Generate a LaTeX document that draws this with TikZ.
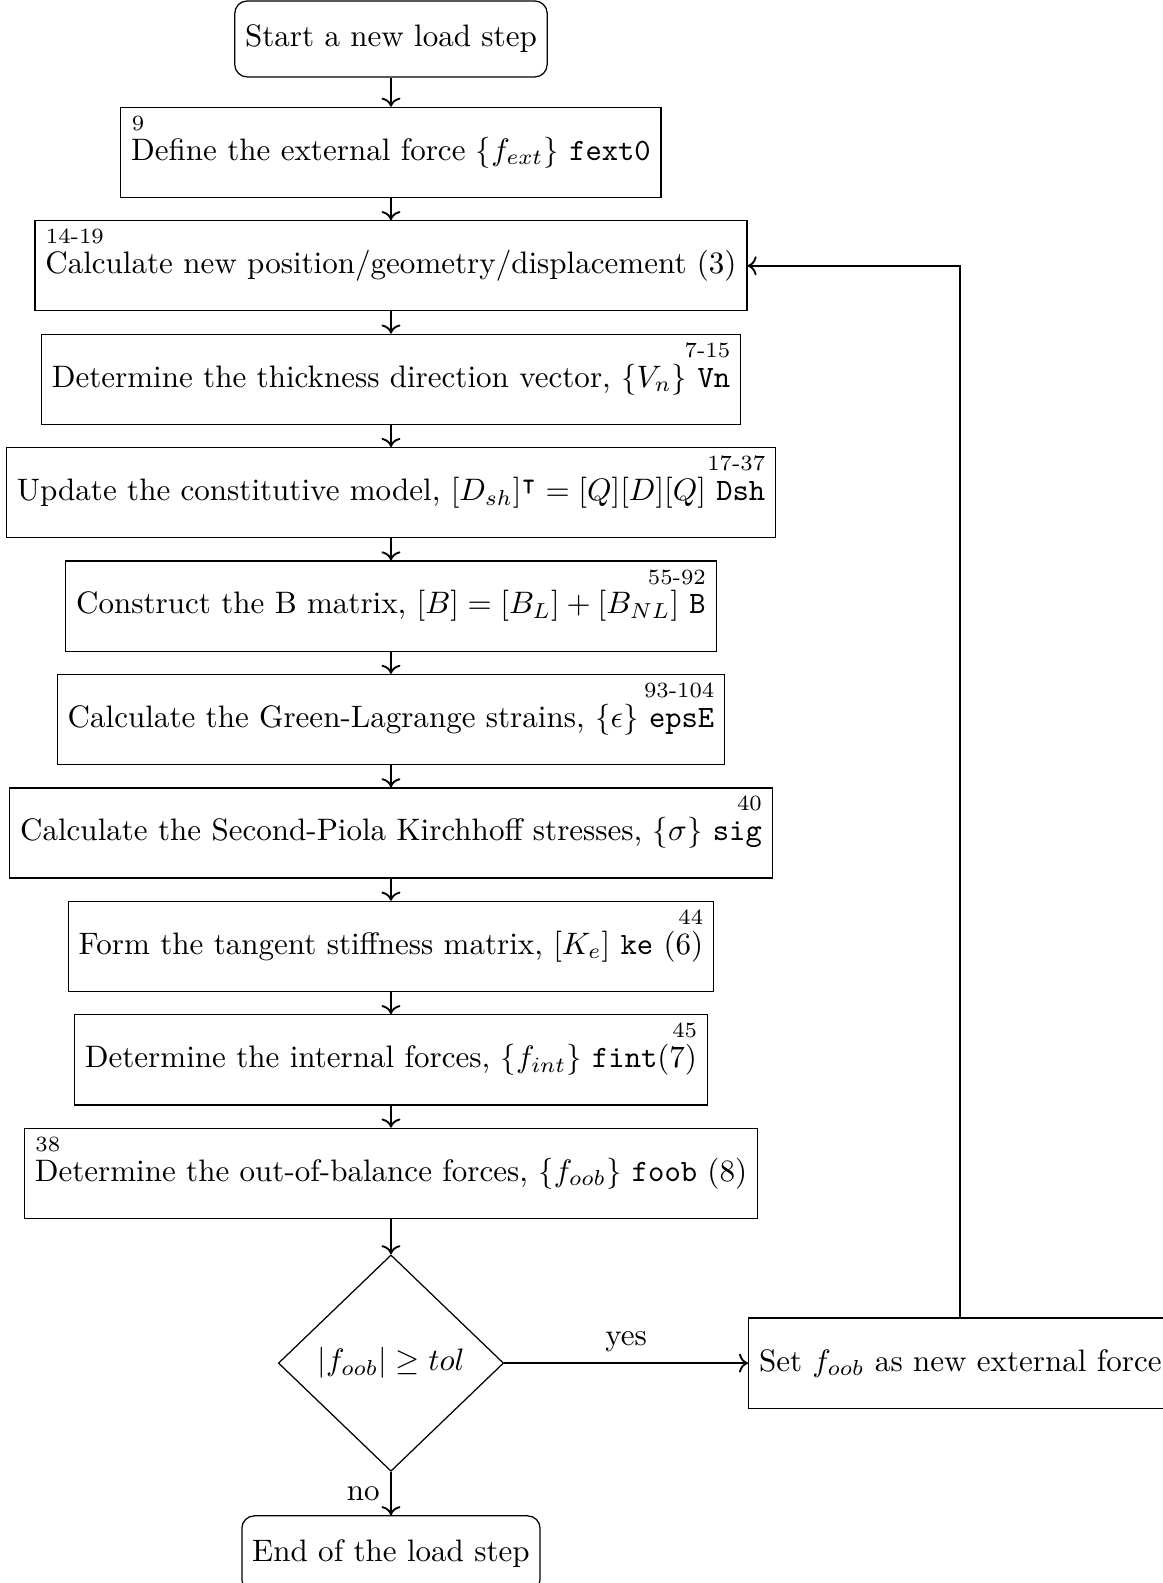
\documentclass[tikz,border=0pt]{standalone}
\usepackage{amsmath,amssymb}
\usetikzlibrary{arrows.meta,positioning,shapes.geometric}

\begin{document}
\begin{tikzpicture}[node distance=0.25cm,
    box/.style={draw,rectangle,minimum height=1.02cm},
    term/.style={draw,rectangle,rounded corners,minimum height=0.86cm},
    decision/.style={draw,diamond,aspect=1,inner sep=1pt,minimum width=2.55cm,minimum height=2.45cm},
    lnum/.style={inner sep=0pt,font=\scriptsize},
    flow/.style={semithick,->}]
    \useasboundingbox (-4.426,0.441) rectangle (8.739,-17.479);

    \node[term] (start) at (0,0) {Start a new load step};
    \node[box,below=0.33cm of start] (fext) {Define the external force $\{f_{ext}\}$ \texttt{fext0}};
    \node[box,below=of fext] (calc) {Calculate new position/geometry/displacement (3)};
    \node[box,below=of calc] (vn) {Determine the thickness direction vector, $\{V_n\}$ \texttt{Vn}};
    \node[box,below=of vn] (dsh) {Update the constitutive model, $[D_{sh}]^\intercal = [Q][D][Q]$ \texttt{Dsh}};
    \node[box,below=of dsh] (bmat) {Construct the B matrix, $[B] = [B_L] + [B_{NL}]$ \texttt{B}};
    \node[box,below=of bmat] (eps) {Calculate the Green-Lagrange strains, $\{\epsilon\}$ \texttt{epsE}};
    \node[box,below=of eps] (sig) {Calculate the Second-Piola Kirchhoff stresses, $\{\sigma\}$ \texttt{sig}};
    \node[box,below=of sig] (ke) {Form the tangent stiffness matrix, $[K_e]$ \texttt{ke} (6)};
    \node[box,below=of ke] (fint) {Determine the internal forces, $\{f_{int}\}$ \texttt{fint}(7)};
    \node[box,below=of fint] (foob) {Determine the out-of-balance forces, $\{f_{oob}\}$ \texttt{foob} (8)};
    \node[decision,below=0.4cm of foob] (check) {$|f_{oob}| \geq tol$};
    \node[box,right=2.76cm of check] (setf) {Set $f_{oob}$ as new external force};
    \node[term,below=0.49cm of check] (finish) {End of the load step};

    % line numbers of the code
    \node[lnum,anchor=base west] at ([yshift=9.6pt]fext.text) {9};
    \node[lnum,anchor=base west] at ([yshift=9.6pt]calc.text) {14-19};
    \node[lnum,anchor=base west] at ([yshift=9.6pt]foob.text) {38};
    \foreach \n/\l in {vn/7-15,dsh/17-37,bmat/55-92,eps/93-104,sig/40,ke/44,fint/45}
        \node[lnum,anchor=base east] at ([xshift=-3.33pt,yshift=9.6pt]\n.base east) {\l};

    \foreach \a/\b in {start/fext,fext/calc,calc/vn,vn/dsh,dsh/bmat,bmat/eps,eps/sig,sig/ke,ke/fint,fint/foob,foob/check}
        \draw[flow] (\a) -- (\b);
    \draw[flow] (check) -- node[above]{yes} (setf);
    \draw[flow] (check) -- node[left]{no} (finish);
    \draw[flow] (setf.north) |- (calc.east);
\end{tikzpicture}
\end{document}
